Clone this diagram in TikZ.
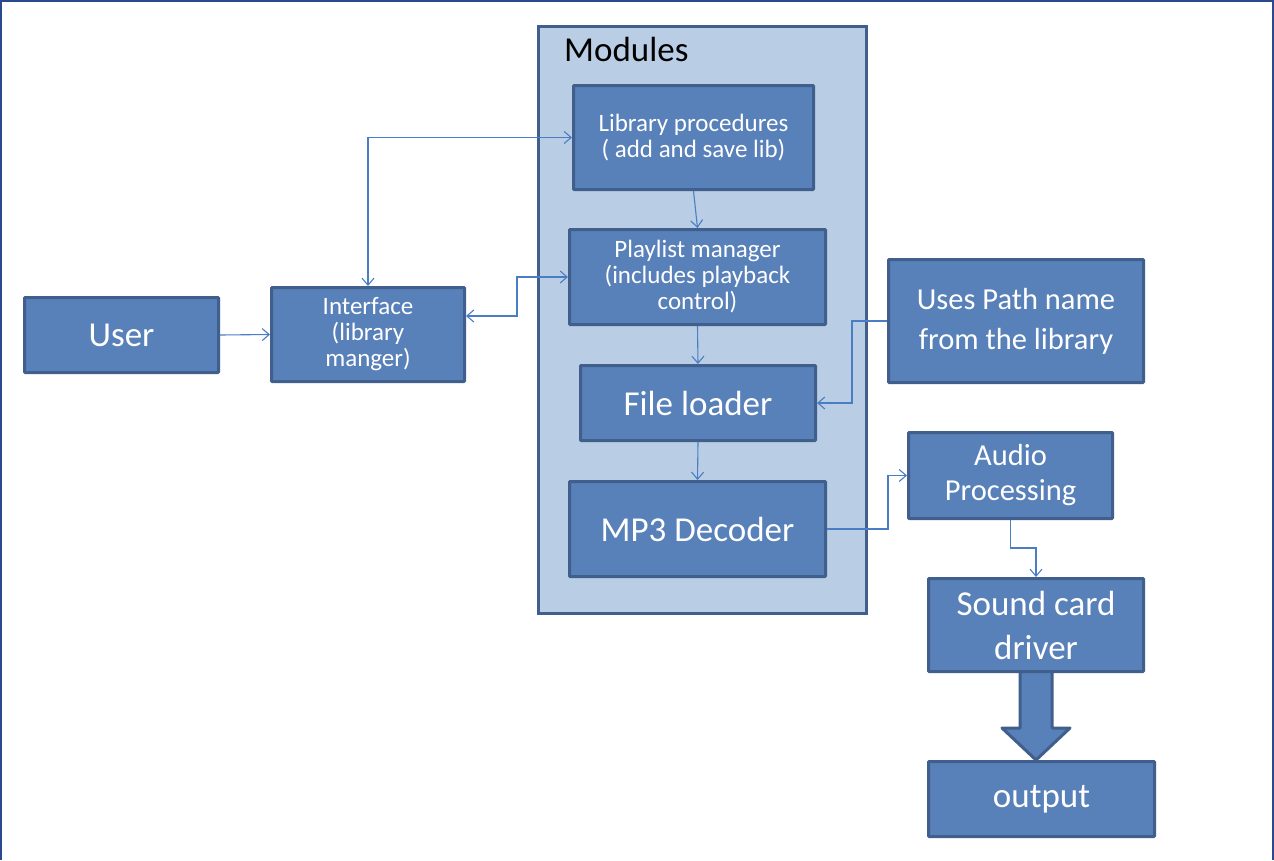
\documentclass[tikz,border=0pt]{standalone}
\usepackage{fontspec}
\setmainfont{Carlito}
\usetikzlibrary{arrows.meta,backgrounds}
\definecolor{boxfill}{HTML}{5880B9}
\definecolor{boxline}{HTML}{415F8C}
\definecolor{modfill}{HTML}{B9CDE4}
\definecolor{conn}{HTML}{4A7EC4}
\definecolor{frame}{HTML}{2B4A8C}
\tikzset{
  blue box/.style={draw=boxline, line width=3pt, fill=boxfill, text=white,
    align=center, inner sep=2pt, rounded corners=0.8pt},
  small txt/.style={font=\fontsize{25}{26}\selectfont},
  mid txt/.style={font=\fontsize{30.5}{36}\selectfont},
  big txt/.style={font=\fontsize{35}{44}\selectfont},
  conline/.style={draw=conn, line width=1.1pt},
  tip/.style={-{Straight Barb[length=7pt,width=12pt,line width=1.1pt]}},
  bitip/.style={{Straight Barb[length=7pt,width=12pt,line width=1.1pt]}-{Straight Barb[length=7pt,width=12pt,line width=1.1pt]}},
  blockarrow/.style={draw=boxline, line width=3pt, fill=boxfill, line join=round},
}
\begin{document}
\begin{tikzpicture}[x=1pt,y=-1pt]
\useasboundingbox (0,0) rectangle (1274,860);
% frame lines
\draw[frame, line width=2pt] (1,860) -- (1,1) -- (1273,1) -- (1273,860);

% modules container
\node[draw=boxline, line width=3pt, fill=modfill, minimum width=328pt, minimum height=587pt, inner sep=0pt] (mod) at (702.5,320) {};
\node[anchor=base west, font=\fontsize{35}{40}\selectfont, text=black, inner sep=0pt] (modlbl) at (564,61) {Modules};

% boxes
\node[blue box, small txt, minimum width=240pt, minimum height=104pt] (lib) at (693.5,137.5) {Library procedures\\( add and save lib)};
\node[blue box, small txt, minimum width=256pt, minimum height=95pt] (play) at (697.5,277) {Playlist manager\\(includes playback\\control)};
\node[blue box, big txt, minimum width=235pt, minimum height=75pt] (file) at (698,403) {File loader};
\node[blue box, big txt, minimum width=256pt, minimum height=95pt] (mp3) at (697.5,529) {MP3 Decoder};
\node[blue box, big txt, minimum width=194pt, minimum height=75pt] (user) at (121.5,335) {User};
\node[blue box, small txt, minimum width=193pt, minimum height=94pt] (iface) at (368,334.5) {Interface\\(library\\manger)};
\node[blue box, minimum width=255pt, minimum height=123pt, font=\fontsize{30.5}{40}\selectfont] (path) at (1016,321) {Uses Path name\\from the library};
\node[blue box, minimum width=204pt, minimum height=86pt, font=\fontsize{30.5}{35}\selectfont] (audio) at (1010.5,475.5) {Audio\\Processing};
\node[blue box, big txt, minimum width=215pt, minimum height=93pt] (sound) at (1036,625) {Sound card\\driver};
\node[blue box, big txt, minimum width=226pt, minimum height=75pt] (out) at (1041.5,799) {output};

% block arrow
\begin{scope}[on background layer]
\draw[blockarrow] ([xshift=-16pt,yshift=2pt]sound.south) -- ++(0,57) -- ++(-18,0) -- (sound.south |- out.north) -- ++(34,-32) -- ++(-18,0) -- ([xshift=16pt,yshift=2pt]sound.south);
\end{scope}

% connectors
\draw[conline, tip] (user.east) -- (iface.west);
\draw[conline, bitip] (iface.north) |- (lib.west);
\draw[conline, bitip] ([yshift=18.5pt]iface.east) -- ++(51,0) |- (play.west);
\draw[conline, tip] (lib.south) -- (play.north);
\draw[conline, tip] (play.south) -- (file.north);
\draw[conline, tip] (file.south) -- (mp3.north);
\draw[conline, tip] (path.west) -- ++(-35,0) |- (file.east);
\draw[conline, tip] (mp3.east) -- ++(61,0) |- (audio.west);
\draw[conline, tip] (audio.south) -- ++(0,28) -| (sound.north);
\end{tikzpicture}
\end{document}
